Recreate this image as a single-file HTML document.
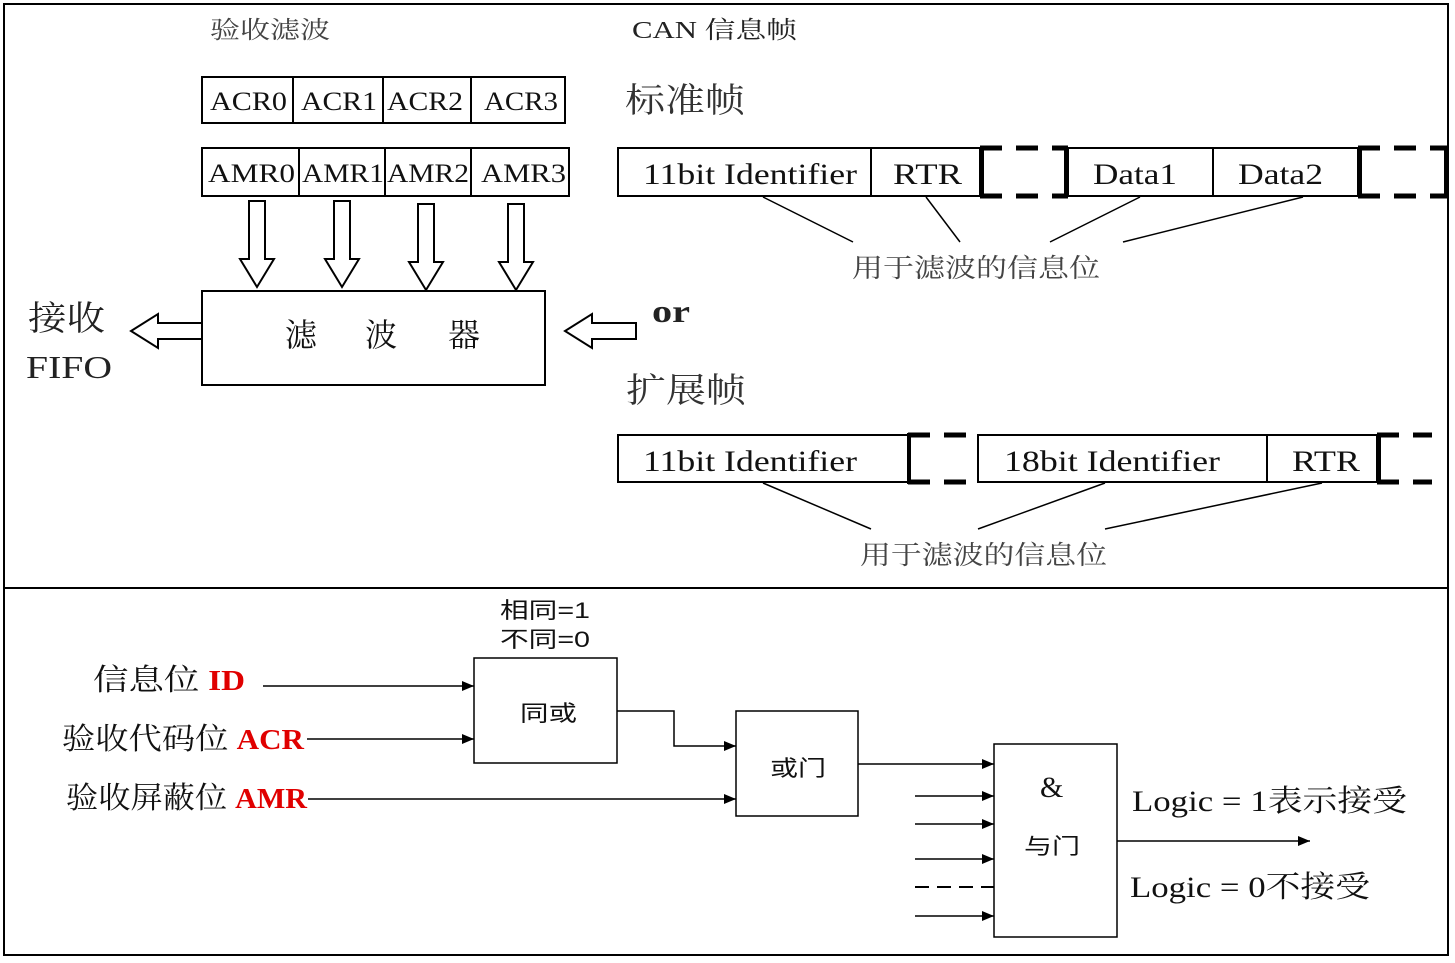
<!DOCTYPE html>
<html><head><meta charset="utf-8"><style>html,body{margin:0;padding:0;background:#fff}svg{display:block}</style></head>
<body>
<svg width="1455" height="963" viewBox="0 0 1455 963" xmlns="http://www.w3.org/2000/svg">
<defs>
<marker id="ah" markerWidth="12" markerHeight="10" refX="12" refY="5" orient="auto" markerUnits="userSpaceOnUse"><path d="M0,0 L12,5 L0,10 Z" fill="#000"/></marker>
</defs>
<rect x="4" y="4" width="1444" height="951" fill="#fff" stroke="#000" stroke-width="2"/>
<line x1="4" y1="588" x2="1448" y2="588" stroke="#000" stroke-width="2"/>
<g font-family="'Liberation Serif','Noto Serif CJK SC',serif" fill="#222" lengthAdjust="spacingAndGlyphs">
<text x="210" y="38" font-size="24" fill="#444" textLength="120" lengthAdjust="spacingAndGlyphs">验收滤波</text>
<text x="632" y="38" font-size="24" fill="#222" textLength="165" lengthAdjust="spacingAndGlyphs">CAN 信息帧</text>
<text x="625" y="112" font-size="34" fill="#333" textLength="120" lengthAdjust="spacingAndGlyphs">标准帧</text>
<text x="626" y="402" font-size="34" fill="#333" textLength="120" lengthAdjust="spacingAndGlyphs">扩展帧</text>
<text x="652" y="322" font-size="32" font-weight="bold" textLength="38" lengthAdjust="spacingAndGlyphs">or</text>
<text x="28" y="330" font-size="34" textLength="77" lengthAdjust="spacingAndGlyphs">接收</text>
<text x="26" y="378" font-size="32" textLength="86" lengthAdjust="spacingAndGlyphs">FIFO</text>
</g>
<g fill="none" stroke="#000" stroke-width="2">
<rect x="202" y="77" width="363" height="46"/>
<line x1="293" y1="77" x2="293" y2="123"/><line x1="383" y1="77" x2="383" y2="123"/><line x1="471" y1="77" x2="471" y2="123"/>
<rect x="202" y="148" width="367" height="48"/>
<line x1="299" y1="148" x2="299" y2="196"/><line x1="385" y1="148" x2="385" y2="196"/><line x1="471" y1="148" x2="471" y2="196"/>
<rect x="202" y="291" width="343" height="94"/>
<path d="M249,201 h16 v58 h9 l-17,28 l-17,-28 h9 z"/>
<path d="M334,201 h16 v58 h9 l-17,28 l-17,-28 h9 z"/>
<path d="M418,204 h16 v58 h9 l-17,28 l-17,-28 h9 z"/>
<path d="M508,204 h16 v58 h9 l-17,28 l-17,-28 h9 z"/>
<path d="M202,323 h-44 v-9 l-27,17 l27,17 v-9 h44 z"/>
<path d="M636,323 h-44 v-9 l-27,17 l27,17 v-9 h44 z"/>
<rect x="618" y="148" width="362" height="48"/><line x1="871" y1="148" x2="871" y2="196"/>
<rect x="1068" y="148" width="290" height="48"/><line x1="1213" y1="148" x2="1213" y2="196"/>
<rect x="618" y="435" width="290" height="47"/>
<rect x="978" y="435" width="399" height="47"/><line x1="1267" y1="435" x2="1267" y2="482"/>
</g>
<g stroke="#000" stroke-width="5" fill="none" stroke-dasharray="22,14">
<line x1="980" y1="148" x2="1068" y2="148"/><line x1="980" y1="196" x2="1068" y2="196"/>
<line x1="1358" y1="148" x2="1447" y2="148"/><line x1="1358" y1="196" x2="1447" y2="196"/>
<line x1="908" y1="435" x2="978" y2="435"/><line x1="908" y1="482" x2="978" y2="482"/>
<line x1="1377" y1="435" x2="1432" y2="435"/><line x1="1377" y1="482" x2="1432" y2="482"/>
</g>
<g stroke="#000" stroke-width="4">
<line x1="982" y1="146" x2="982" y2="198"/><line x1="1066" y1="146" x2="1066" y2="198"/>
<line x1="1360" y1="146" x2="1360" y2="198"/><line x1="1446" y1="146" x2="1446" y2="198"/>
<line x1="909" y1="433" x2="909" y2="484"/><line x1="1379" y1="433" x2="1379" y2="484"/>
</g>
<g stroke="#000" stroke-width="1.5">
<line x1="763" y1="197" x2="853" y2="242"/><line x1="926" y1="197" x2="960" y2="242"/>
<line x1="1140" y1="197" x2="1050" y2="242"/><line x1="1303" y1="197" x2="1123" y2="242"/>
<line x1="763" y1="483" x2="871" y2="529"/><line x1="1105" y1="483" x2="978" y2="529"/>
<line x1="1322" y1="483" x2="1105" y2="529"/>
</g>
<g font-family="'Liberation Serif','Noto Serif CJK SC',serif" fill="#111" font-size="26">
<text x="210" y="110" textLength="77" lengthAdjust="spacingAndGlyphs">ACR0</text>
<text x="301" y="110" textLength="76" lengthAdjust="spacingAndGlyphs">ACR1</text>
<text x="387" y="110" textLength="76" lengthAdjust="spacingAndGlyphs">ACR2</text>
<text x="484" y="110" textLength="74" lengthAdjust="spacingAndGlyphs">ACR3</text>
<text x="208" y="182" textLength="87" lengthAdjust="spacingAndGlyphs">AMR0</text>
<text x="302" y="182" textLength="82" lengthAdjust="spacingAndGlyphs">AMR1</text>
<text x="387" y="182" textLength="82" lengthAdjust="spacingAndGlyphs">AMR2</text>
<text x="481" y="182" textLength="85" lengthAdjust="spacingAndGlyphs">AMR3</text>
<text x="285" y="346" font-size="32">滤</text><text x="365" y="346" font-size="32">波</text><text x="448" y="346" font-size="32">器</text>
<text x="643" y="184" font-size="30" textLength="214" lengthAdjust="spacingAndGlyphs">11bit Identifier</text>
<text x="893" y="184" font-size="30" textLength="69" lengthAdjust="spacingAndGlyphs">RTR</text>
<text x="1093" y="184" font-size="30" textLength="84" lengthAdjust="spacingAndGlyphs">Data1</text>
<text x="1238" y="184" font-size="30" textLength="85" lengthAdjust="spacingAndGlyphs">Data2</text>
<text x="643" y="471" font-size="30" textLength="214" lengthAdjust="spacingAndGlyphs">11bit Identifier</text>
<text x="1004" y="471" font-size="30" textLength="216" lengthAdjust="spacingAndGlyphs">18bit Identifier</text>
<text x="1292" y="471" font-size="30" textLength="68" lengthAdjust="spacingAndGlyphs">RTR</text>
<text x="852" y="277" font-size="26" fill="#444" textLength="248" lengthAdjust="spacingAndGlyphs">用于滤波的信息位</text>
<text x="860" y="564" font-size="26" fill="#444" textLength="247" lengthAdjust="spacingAndGlyphs">用于滤波的信息位</text>
</g>
<g font-family="'Liberation Sans','Noto Sans CJK SC',sans-serif" font-size="22" fill="#111">
<text x="500" y="618" textLength="90" lengthAdjust="spacingAndGlyphs">相同=1</text>
<text x="500" y="647" textLength="90" lengthAdjust="spacingAndGlyphs">不同=0</text>
<text x="520" y="721" textLength="57" lengthAdjust="spacingAndGlyphs">同或</text>
<text x="770" y="776" textLength="56" lengthAdjust="spacingAndGlyphs">或门</text>
<text x="1024" y="854" textLength="56" lengthAdjust="spacingAndGlyphs">与门</text>
</g>
<g fill="none" stroke="#000" stroke-width="1.5">
<rect x="474" y="658" width="143" height="105"/>
<rect x="736" y="711" width="122" height="105"/>
<rect x="994" y="744" width="123" height="193"/>
</g>
<g stroke="#000" stroke-width="1.5" fill="none" marker-end="url(#ah)">
<line x1="263" y1="686" x2="474" y2="686"/>
<line x1="307" y1="739" x2="474" y2="739"/>
<line x1="308" y1="799" x2="736" y2="799"/>
<polyline points="617,711 674,711 674,746 736,746"/>
<line x1="858" y1="764" x2="994" y2="764"/>
<line x1="915" y1="796" x2="994" y2="796"/>
<line x1="915" y1="824" x2="994" y2="824"/>
<line x1="915" y1="859" x2="994" y2="859"/>
<line x1="915" y1="916" x2="994" y2="916"/>
<line x1="1117" y1="841" x2="1310" y2="841"/>
</g>
<line x1="915" y1="887" x2="994" y2="887" stroke="#000" stroke-width="2" stroke-dasharray="14,8"/>
<g font-family="'Liberation Serif','Noto Serif CJK SC',serif" font-size="30" fill="#111">
<text x="1040" y="797">&amp;</text>
<text x="93" y="690" textLength="152" lengthAdjust="spacingAndGlyphs">信息位 <tspan fill="#e00000" font-size="28" font-weight="bold">ID</tspan></text>
<text x="62" y="749" textLength="242" lengthAdjust="spacingAndGlyphs">验收代码位 <tspan fill="#e00000" font-size="28" font-weight="bold">ACR</tspan></text>
<text x="66" y="808" textLength="241" lengthAdjust="spacingAndGlyphs">验收屏蔽位 <tspan fill="#e00000" font-size="28" font-weight="bold">AMR</tspan></text>
<text x="1132" y="811" textLength="275" lengthAdjust="spacingAndGlyphs">Logic = 1表示接受</text>
<text x="1130" y="897" textLength="240" lengthAdjust="spacingAndGlyphs">Logic = 0不接受</text>
</g>
</svg>
</body></html>
